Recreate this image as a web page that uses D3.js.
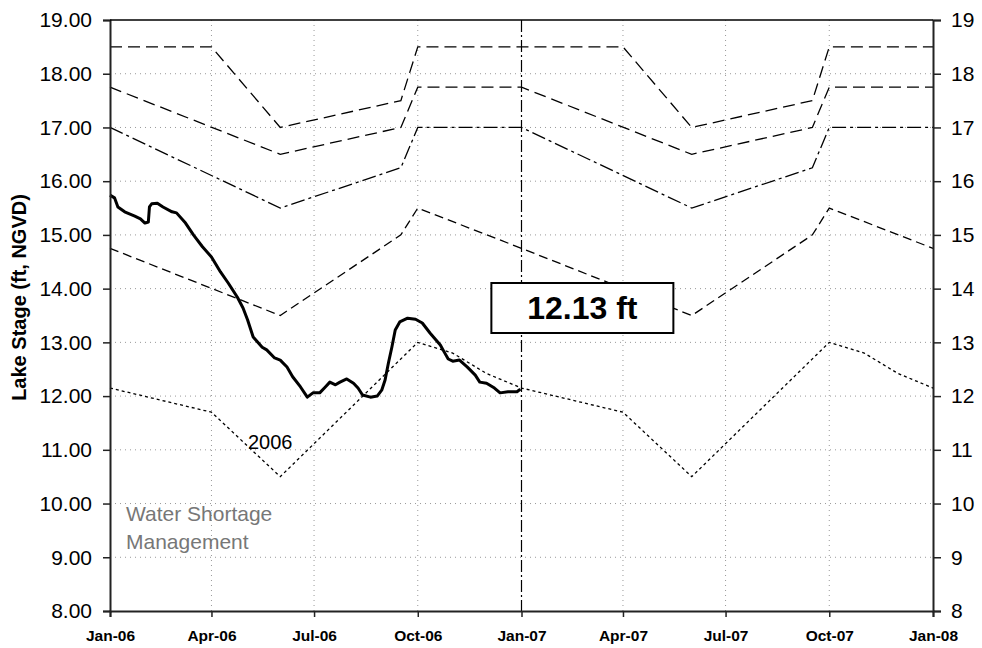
<!DOCTYPE html>
<html>
  <head>
    <meta charset="utf-8">
    <script src="https://d3js.org/d3.v7.min.js"></script>
    <style>
      body {
        margin: 0;
        background: #fff;
      }
      svg text {
        font-family: "Liberation Sans", Arial, sans-serif;
      }
      .grid line {
        stroke: #999;
        stroke-dasharray: 1,4;
      }
    </style>
  </head>
  <body>
    <svg id="chart" width="982" height="648"></svg>
    <script>
      // 2006 observed lake stage (date, ft NGVD)
      const stageDates = ["2006-01-01","2006-01-05","2006-01-08","2006-01-14","2006-01-23","2006-01-28","2006-02-01","2006-02-04",
        "2006-02-05","2006-02-07","2006-02-12","2006-02-17","2006-02-25","2006-03-01","2006-03-09","2006-03-16","2006-03-24",
        "2006-04-01","2006-04-09","2006-04-16","2006-04-24","2006-04-29","2006-05-03","2006-05-08","2006-05-16","2006-05-20",
        "2006-05-27","2006-06-01","2006-06-07","2006-06-12","2006-06-19","2006-06-25","2006-06-30","2006-07-06","2006-07-11",
        "2006-07-15","2006-07-20","2006-07-24","2006-07-30","2006-08-05","2006-08-09","2006-08-13","2006-08-20","2006-08-26",
        "2006-08-30","2006-09-02","2006-09-05","2006-09-08","2006-09-11","2006-09-15","2006-09-22","2006-09-29","2006-10-05",
        "2006-10-12","2006-10-21","2006-10-25","2006-10-28","2006-11-01","2006-11-07","2006-11-14","2006-11-21","2006-11-25",
        "2006-12-01","2006-12-08","2006-12-13","2006-12-20","2006-12-28","2006-12-31"]
      const stageValues = [15.74,15.69,15.52,15.43,15.35,15.30,15.22,15.24,
        15.52,15.58,15.59,15.52,15.43,15.41,15.22,15.00,14.78,
        14.59,14.31,14.10,13.84,13.64,13.42,13.10,12.91,12.86,
        12.71,12.67,12.54,12.36,12.17,11.98,12.06,12.06,12.17,
        12.26,12.21,12.26,12.32,12.24,12.15,12.02,11.98,12.00,
        12.11,12.30,12.62,12.91,13.23,13.38,13.45,13.43,13.36,
        13.17,12.95,12.80,12.69,12.65,12.67,12.54,12.39,12.26,
        12.24,12.15,12.06,12.08,12.08,12.13]

      // regulation schedule lines, one year (month-day), repeated for 2006 and 2007
      const sched1Days = ["01-01","04-01","06-01","09-16","10-01"]
      const sched1Values = [18.5,18.5,17.0,17.5,18.5]
      const sched2Days = ["01-01","06-01","09-16","10-01"]
      const sched2Values = [17.75,16.5,17.0,17.75]
      const sched3Days = ["01-01","06-01","09-16","10-01"]
      const sched3Values = [17.0,15.5,16.25,17.0]
      const sched4Days = ["01-01","06-01","09-16","10-01"]
      const sched4Values = [14.75,13.5,15.0,15.5]
      const sched5Days = ["01-01","04-01","06-01","10-01","11-01","12-01"]
      const sched5Values = [12.15,11.7,10.5,13.0,12.8,12.42]
      const scheduleYears = [2006, 2007]

      const yTicks = [8,9,10,11,12,13,14,15,16,17,18,19]
      const currentLabel = "12.13 ft"
      const yearLabel = "2006"
      const zoneLabel = ["Water Shortage", "Management"]

      const parse = d3.timeParse("%Y-%m-%d")
      const svg = d3.select('#chart')
      const mLeft = 110, mRight = 933, mTop = 20, mBottom = 611

      const x = d3.scaleTime()
        .domain([parse("2006-01-01"), parse("2008-01-01")])
        .range([mLeft, mRight])
      const y = d3.scaleLinear().domain([8, 19]).range([mBottom, mTop])

      // grid
      const quarters = d3.timeMonth.every(3).range(parse("2006-01-01"), parse("2008-01-02"))
      svg.append('g').attr('class', 'grid')
        .selectAll('line').data(yTicks.filter(d => d > 8 && d < 19)).join('line')
          .attr('x1', mLeft).attr('x2', mRight)
          .attr('y1', d => y(d)).attr('y2', d => y(d))
      svg.append('g').attr('class', 'grid')
        .selectAll('line').data(quarters.filter((d, i) => i % 4 != 0)).join('line')
          .attr('x1', d => x(d)).attr('x2', d => x(d))
          .attr('y1', mTop).attr('y2', mBottom)

      // Jan-07 marker
      svg.append('line')
        .attr('x1', x(parse("2007-01-01"))).attr('x2', x(parse("2007-01-01")))
        .attr('y1', mTop).attr('y2', mBottom)
        .attr('stroke', '#000').attr('stroke-width', 1.2)
        .attr('stroke-dasharray', '12,3,2,3')

      const line = d3.line().x(d => x(d.date)).y(d => y(d.value))

      function schedule(days, values) {
        let pts = []
        scheduleYears.forEach(yr => {
          days.forEach((md, i) => pts.push({date: parse(yr + "-" + md), value: values[i]}))
        })
        pts.push({date: parse("2008-01-01"), value: values[0]})
        return pts
      }

      const schedules = [
        {pts: schedule(sched1Days, sched1Values), dash: '12,6'},
        {pts: schedule(sched2Days, sched2Values), dash: '12,6'},
        {pts: schedule(sched3Days, sched3Values), dash: '14,4,3,4'},
        {pts: schedule(sched4Days, sched4Values), dash: '9,5'},
        {pts: schedule(sched5Days, sched5Values), dash: '3,3'}
      ]
      svg.append('g').selectAll('path').data(schedules).join('path')
        .attr('d', d => line(d.pts))
        .attr('fill', 'none')
        .attr('stroke', '#000')
        .attr('stroke-width', 1.3)
        .attr('stroke-dasharray', d => d.dash)

      const stage = stageDates.map((s, i) => ({date: parse(s), value: stageValues[i]}))
      svg.append('path')
        .attr('d', line(stage))
        .attr('fill', 'none')
        .attr('stroke', '#000')
        .attr('stroke-width', 3)
        .attr('stroke-linejoin', 'round')

      // axes
      const yLeft = svg.append('g').attr('transform', `translate(${mLeft},0)`)
        .call(d3.axisLeft(y).tickValues(yTicks).tickFormat(d3.format('.2f')).tickSize(7).tickPadding(11))
      const yRight = svg.append('g').attr('transform', `translate(${mRight},0)`)
        .call(d3.axisRight(y).tickValues(yTicks).tickFormat(d3.format('d')).tickSize(8).tickPadding(10))
      const xAxis = svg.append('g').attr('transform', `translate(0,${mBottom})`)
        .call(d3.axisBottom(x).tickValues(quarters).tickFormat(d3.timeFormat('%b-%y')).tickSize(6).tickPadding(13))

      yLeft.selectAll('text').style('font-size', '21px').attr('fill', '#000')
      yRight.selectAll('text').style('font-size', '21px').attr('fill', '#000')
      xAxis.selectAll('text').style('font-size', '15.5px').style('font-weight', 'bold').attr('fill', '#000')
      ;[yLeft, yRight, xAxis].forEach(g => {
        g.select('.domain').attr('stroke', '#222').attr('stroke-width', 2)
        g.selectAll('.tick line').attr('stroke', '#222').attr('stroke-width', 1.5)
      })

      svg.append('line')
        .attr('x1', mLeft).attr('x2', mRight).attr('y1', mTop).attr('y2', mTop)
        .attr('stroke', '#000').attr('stroke-width', 1.5)

      svg.append('text')
        .attr('transform', `translate(26,${(mTop + mBottom) / 2 - 18}) rotate(-90)`)
        .attr('text-anchor', 'middle')
        .style('font-size', '20px').style('font-weight', 'bold')
        .text('Lake Stage (ft, NGVD)')

      // current value box
      const box = svg.append('g').attr('transform', `translate(${x(parse("2006-12-31")) - 29},283)`)
      box.append('rect')
        .attr('width', 182).attr('height', 50)
        .attr('fill', '#fff').attr('stroke', '#000').attr('stroke-width', 2)
      box.append('text')
        .attr('x', 91).attr('y', 36)
        .attr('text-anchor', 'middle')
        .style('font-size', '32px').style('font-weight', 'bold')
        .text(currentLabel)

      svg.append('text')
        .attr('x', 248).attr('y', 449)
        .style('font-size', '20px')
        .text(yearLabel)

      svg.append('g').selectAll('text').data(zoneLabel).join('text')
        .attr('x', 126).attr('y', (d, i) => 521 + i * 28)
        .style('font-size', '21px')
        .attr('fill', '#777')
        .text(d => d)
    </script>
  </body>
</html>
